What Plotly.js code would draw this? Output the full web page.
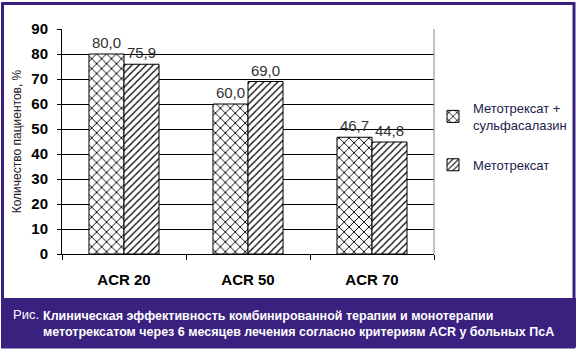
<!DOCTYPE html>
<html><head><meta charset="utf-8">
<script src="https://cdn.plot.ly/plotly-3.0.1.min.js"></script>
<style>html,body{margin:0;padding:0;background:#fff}</style>
</head><body><div id="c" style="width:578px;height:352px"></div>
<script>
var categories = ["ACR 20", "ACR 50", "ACR 70"];
var seriesNames = ["Метотрексат +<br>сульфасалазин", "Метотрексат"];
var comboValues = [80.0, 60.0, 46.7];
var mtxValues = [75.9, 69.0, 44.8];
var yTicks = [0, 10, 20, 30, 40, 50, 60, 70, 80, 90];
var captionLines = ["Клиническая эффективность комбинированной терапии и монотерапии",
  "метотрексатом через 6 месяцев лечения согласно критериям ACR у больных ПсА"];

var W = 578, H = 352, L = 62, R = 144, T = 29, B = 98;
var PW = W - L - R, PH = H - T - B;
function px(x) { return (x - L) / PW; }
function py(y) { return (H - B - y) / PH; }
var purple = "#3a2180";
var sans = "Liberation Sans, Arial, sans-serif";

function barTrace(name, vals, shape, size, grp) {
  return {
    type: "bar", x: categories, y: vals, name: name, legendgroup: grp,
    marker: { color: "#ffffff", line: { color: "#000", width: 1 },
      pattern: { shape: shape, fgcolor: "#000", bgcolor: "#fff", size: size, solidity: 0.25 } },
    texttemplate: "%{y:.1f}", textposition: "outside",
    textfont: { family: sans, size: 15, color: "#333" },
    cliponaxis: false
  };
}
var data = [barTrace(seriesNames[0], comboValues, "x", 7, "g1"), barTrace(seriesNames[1], mtxValues, "/", 5, "g2")];

var layout = {
  width: W, height: H, margin: { l: L, r: R, t: T, b: B, autoexpand: false },
  paper_bgcolor: "#fff", plot_bgcolor: "#fff",
  separators: ",.",
  barmode: "group", bargap: 0.435, bargroupgap: 0,
  showlegend: true,
  legend: { x: px(433), y: py(93), xanchor: "left", yanchor: "top",
    font: { family: sans, size: 13, color: "#1c1c4c" }, tracegroupgap: 20,
    itemwidth: 30, bgcolor: "rgba(0,0,0,0)" },
  xaxis: { type: "category", tickson: "boundaries", ticks: "outside", ticklen: 5, tickcolor: "#000",
    showline: true, linecolor: "#000", mirror: false, showgrid: false,
    tickfont: { family: sans, size: 15, color: "#000", weight: "bold" },
    ticklabelstandoff: 12, fixedrange: true },
  yaxis: { range: [0, 90], tickvals: yTicks, ticks: "outside", ticklen: 4, tickcolor: "#000",
    showline: true, linecolor: "#000", showgrid: true, gridcolor: "#000", gridwidth: 1,
    zeroline: false,
    tickfont: { family: sans, size: 15, color: "#000", weight: "bold" },
    ticklabelstandoff: 6,
    title: { text: "Количество пациентов, %", standoff: 7,
      font: { family: sans, size: 12, color: "#222" } } },
  shapes: [
    { type: "line", xref: "paper", yref: "paper", x0: 1, x1: 1, y0: 0, y1: 1, line: { color: "#888", width: 1 } },
    { type: "rect", xref: "paper", yref: "paper", x0: px(2), x1: px(576), y0: py(298), y1: py(347),
      fillcolor: purple, line: { width: 0 }, layer: "below" },
    { type: "rect", xref: "paper", yref: "paper", x0: px(2.5), x1: px(574), y0: py(3.5), y1: py(347),
      fillcolor: "rgba(0,0,0,0)", line: { color: purple, width: 3 } }
  ],
  annotations: [
    { xref: "paper", yref: "paper", x: px(11), y: py(314), xanchor: "left", yanchor: "middle",
      text: "Рис.", showarrow: false, font: { family: sans, size: 13, color: "#fff" } },
    { xref: "paper", yref: "paper", x: px(41), y: py(323.5), xanchor: "left", yanchor: "middle", align: "left",
      text: "<b>" + captionLines[0] + "<br>" + captionLines[1] + "</b>", showarrow: false,
      font: { family: sans, size: 12.5, color: "#fff" } }
  ]
};
Plotly.newPlot("c", data, layout, { displayModeBar: false, staticPlot: true });
</script></body></html>
